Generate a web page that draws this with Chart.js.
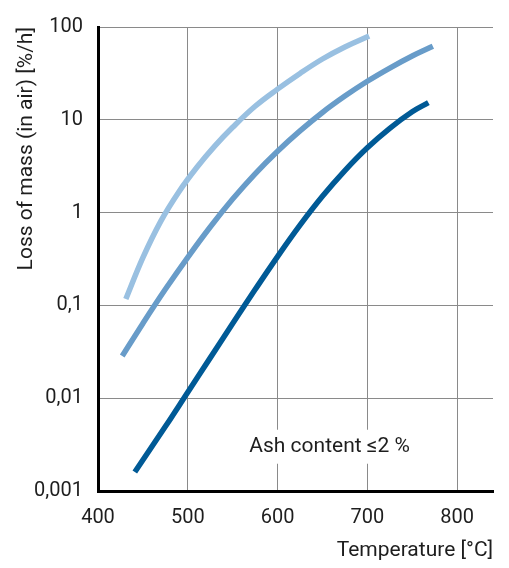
<!DOCTYPE html>
<html>
<head>
<meta charset="utf-8">
<script src="https://cdn.jsdelivr.net/npm/chart.js@4.4.1/dist/chart.umd.min.js"></script>
<style>
  html, body { margin: 0; padding: 0; background: #fff; }
  #wrap { width: 509px; height: 568px; }
</style>
</head>
<body>
<div id="wrap"><canvas id="chart"></canvas></div>
<script>
// temperatures [°C] and loss of mass [%/h]
const lightT = [431, 450, 470, 490, 510, 530, 550, 575, 600, 625, 650, 675, 702];
const lightV = [0.117, 0.327, 0.81, 1.67, 3.06, 5.2, 8.3, 14.0, 21.4, 31.6, 45.2, 61, 80];

const midT = [427, 450, 475, 500, 525, 550, 575, 600, 625, 650, 675, 700, 725, 750, 773];
const midV = [0.0285, 0.064, 0.149, 0.33, 0.70, 1.40, 2.62, 4.59, 7.6, 12.0, 18.0, 26.0, 36.1, 48.7, 62];

const darkT = [441, 475, 500, 525, 550, 575, 600, 625, 650, 675, 700, 725, 750, 768];
const darkV = [0.0016, 0.00495, 0.0116, 0.0272, 0.0638, 0.148, 0.336, 0.733, 1.5, 2.84, 5.0, 8.1, 12.2, 15.3];

const xTicks = [400, 500, 600, 700, 800];
const yTicks = [0.001, 0.01, 0.1, 1, 10, 100];
const yLabels = ['0,001', '0,01', '0,1', '1', '10', '100'];

const note = 'Ash content ≤2 %';
const noteAt = { x: 658, y: 0.003 };

const FONT = 'Roboto, "DejaVu Sans", sans-serif';
const TXT = '#1e1e1e';

const pts = (xs, ys) => xs.map((x, i) => ({ x, y: ys[i] }));

const line = (data, color) => ({
  data,
  borderColor: color,
  borderWidth: 5.5,
  borderCapStyle: 'butt',
  pointRadius: 0,
  fill: false,
  tension: 0.4,
});

// text label with a white box behind it (it cuts the grid lines)
const notePlugin = {
  id: 'note',
  afterDraw(chart) {
    const { ctx, scales } = chart;
    const x = scales.x.getPixelForValue(noteAt.x);
    const y = scales.y.getPixelForValue(noteAt.y);
    ctx.save();
    ctx.font = '21px ' + FONT;
    const w = ctx.measureText(note).width;
    ctx.fillStyle = '#fff';
    ctx.fillRect(x - w / 2 - 6, y - 17, w + 12, 34);
    ctx.fillStyle = TXT;
    ctx.textAlign = 'center';
    ctx.textBaseline = 'middle';
    ctx.fillText(note, x, y);
    ctx.restore();
  },
};

new Chart(document.getElementById('chart'), {
  type: 'line',
  data: {
    datasets: [
      line(pts(lightT, lightV), '#99c0e1'),
      line(pts(midT, midV), '#689cc9'),
      line(pts(darkT, darkV), '#005a96'),
    ],
  },
  plugins: [notePlugin],
  options: {
    responsive: true,
    maintainAspectRatio: false,
    animation: false,
    layout: { padding: { top: 19, right: 16, left: 4, bottom: 0 } },
    plugins: { legend: { display: false }, tooltip: { enabled: false } },
    scales: {
      x: {
        type: 'linear',
        min: 400,
        max: 840,
        afterBuildTicks: s => { s.ticks = xTicks.map(v => ({ value: v })); },
        afterFit: s => { s.height = 77; },
        ticks: { color: TXT, font: { family: FONT, size: 20 }, padding: 15 },
        grid: { color: '#8a8a8a', lineWidth: 1, drawTicks: false },
        border: { color: '#000', width: 3 },
        title: {
          display: true,
          text: 'Temperature [°C]',
          align: 'end',
          color: TXT,
          font: { family: FONT, size: 21 },
          padding: { top: 0, bottom: 5 },
        },
      },
      y: {
        type: 'logarithmic',
        min: 0.001,
        max: 100,
        afterBuildTicks: s => { s.ticks = yTicks.map(v => ({ value: v })); },
        afterFit: s => { s.width = 94; },
        ticks: {
          color: TXT,
          font: { family: FONT, size: 20 },
          padding: 15,
          callback: v => yLabels[yTicks.indexOf(v)] ?? '',
        },
        grid: { color: '#8a8a8a', lineWidth: 1, drawTicks: false },
        border: { color: '#000', width: 3 },
        title: {
          display: true,
          text: 'Loss of mass (in air) [%/h]',
          align: 'end',
          color: TXT,
          font: { family: FONT, size: 21 },
          padding: { top: 10, bottom: 0 },
        },
      },
    },
  },
});
</script>
</body>
</html>
